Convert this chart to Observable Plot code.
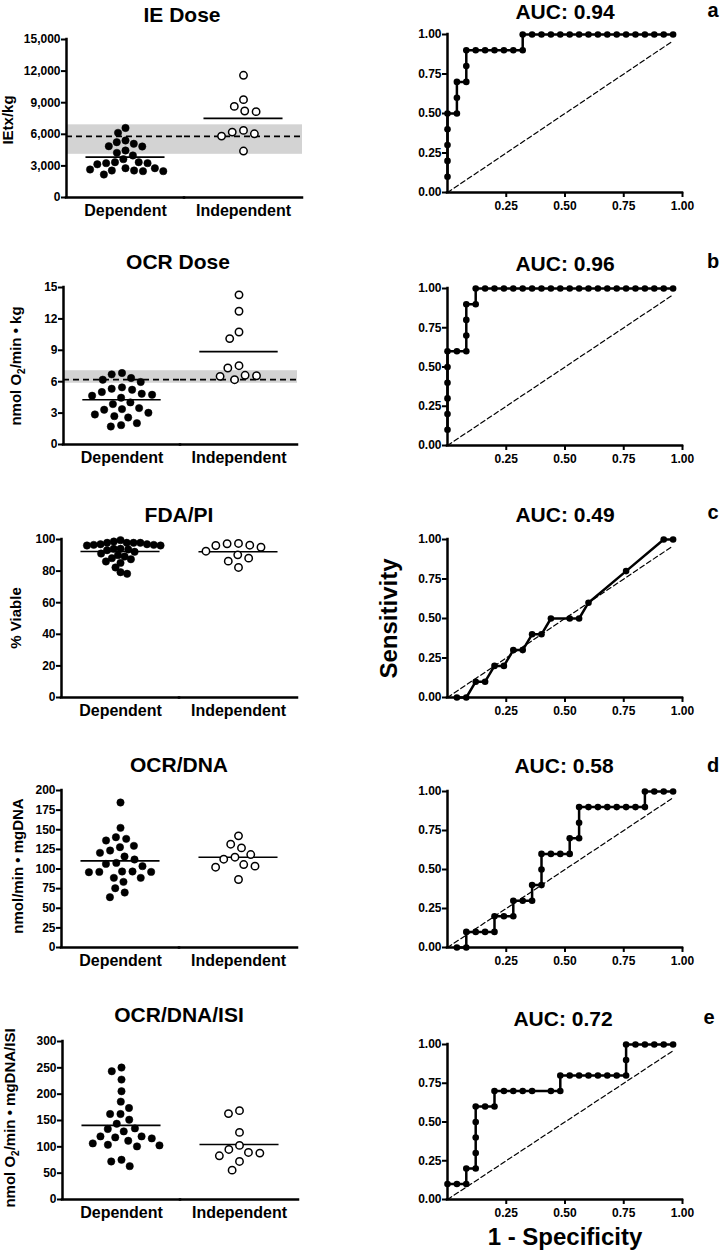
<!DOCTYPE html>
<html><head><meta charset="utf-8">
<script src="https://cdn.jsdelivr.net/npm/d3@7"></script>
<script src="https://cdn.jsdelivr.net/npm/@observablehq/plot@0.6"></script>
<style>
body{margin:0;background:#fff;}
#root{position:relative;width:721px;height:1251px;overflow:hidden;background:#fff;font-family:"Liberation Sans",Arial,sans-serif;}
#root > svg{position:absolute;}
</style></head><body><div id="root"></div>
<script>
// ---------------- DATA ----------------
const groups = ["Dependent", "Independent"];
const leftTitles = ["IE Dose", "OCR Dose", "FDA/PI", "OCR/DNA", "OCR/DNA/ISI"];
const aucValues = ["0.94", "0.96", "0.49", "0.58", "0.72"];
const panelLetters = ["a", "b", "c", "d", "e"];
const yLabels = [["IEtx/kg"], ["nmol O", "2", "/min \u2022 kg"], ["% Viable"], ["nmol/min \u2022 mgDNA"], ["nmol O", "2", "/min \u2022 mgDNA/ISI"]];

// IE Dose
const ieDoseDep = [6600, 6140, 5410, 5250, 5100, 4870, 4840, 4460, 4240, 3990, 3640, 3350, 3350, 3260, 3260, 3150, 2780, 2780, 2660, 2560, 2560, 2500, 2500, 2180];
const ieDoseIndep = [11600, 9290, 8650, 8210, 8150, 6370, 6210, 6050, 5830, 4410];
const ieDoseMeans = [3830, 7510];
const ieDoseBand = [4100, 6900];
const ieDoseCutoff = 5800;
const ieDoseTicks = [0, 3000, 6000, 9000, 12000, 15000];

// OCR Dose
const ocrDoseDep = [6.83, 6.70, 6.35, 6.19, 5.97, 5.46, 5.33, 5.23, 5.01, 4.85, 4.75, 4.66, 4.47, 4.02, 3.86, 3.48, 3.38, 3.32, 3.03, 2.87, 2.71, 2.58, 2.04, 1.85, 1.72];
const ocrDoseIndep = [14.3, 12.73, 10.75, 10.12, 7.53, 7.31, 6.61, 6.57, 6.51, 6.19];
const ocrDoseMeans = [4.28, 8.87];
const ocrDoseBand = [5.85, 7.05];
const ocrDoseCutoff = 6.2;
const ocrDoseTicks = [0, 3, 6, 9, 12, 15];

// FDA/PI
const fdaDep = [99.6, 98.7, 97.9, 97.9, 97.9, 97.9, 97.0, 97.0, 96.6, 96.6, 96.2, 96.2, 94.1, 94.1, 93.7, 93.2, 92.2, 91.1, 90.1, 89.2, 88.2, 87.5, 86.1, 85.2, 82.3, 79.3, 78.3];
const fdaIndep = [97.5, 97.3, 96.4, 96.2, 95.1, 92.6, 90.3, 88.2, 86.3, 82.3];
const fdaMeans = [92.4, 92.2];
const fdaTicks = [0, 20, 40, 60, 80, 100];

// OCR/DNA
const ocrDnaDep = [184.7, 152.4, 140.5, 138.4, 136.3, 129.5, 127.8, 123.5, 120.6, 115.9, 112.1, 107.8, 106.5, 103.6, 96.8, 96.8, 96.3, 96.3, 95.9, 88.7, 88.7, 83.6, 75.5, 70.0, 64.1];
const ocrDnaIndep = [142.2, 131.6, 126.9, 118.4, 115.0, 112.5, 105.7, 103.6, 102.3, 86.6];
const ocrDnaMeans = [110.4, 115.0];
const ocrDnaTicks = [0, 25, 50, 75, 100, 125, 150, 175, 200];

// OCR/DNA/ISI
const isiDep = [250.5, 243.5, 227.7, 205.5, 185.8, 173.7, 162.3, 162.3, 151.5, 143.9, 135.0, 133.8, 129.3, 119.8, 119.8, 117.9, 116.0, 111.5, 106.5, 103.9, 102.7, 100.8, 75.4, 72.2, 63.3];
const isiIndep = [168.7, 163.1, 127.4, 102.7, 95.0, 89.3, 88.1, 83.0, 72.2, 55.7];
const isiMeans = [140.7, 104.3];
const isiTicks = [0, 50, 100, 150, 200, 250, 300];

// ROC curves (1 - specificity, sensitivity)
const rocTicks = [0, 0.25, 0.5, 0.75, 1];
const chanceFpr = [0, 0.96];
const chanceTpr = [0, 0.96];
const rocAFpr = [0,0,0,0,0,0.04,0.04,0.04,0.08,0.08,0.08,0.12,0.16,0.20,0.24,0.28,0.32,0.32,0.36,0.40,0.44,0.48,0.52,0.56,0.60,0.64,0.68,0.72,0.76,0.80,0.84,0.88,0.92,0.96];
const rocATpr = [0.1,0.2,0.3,0.4,0.5,0.5,0.6,0.7,0.7,0.8,0.9,0.9,0.9,0.9,0.9,0.9,0.9,1,1,1,1,1,1,1,1,1,1,1,1,1,1,1,1,1];
const rocBFpr = [0,0,0,0,0,0,0.04,0.08,0.08,0.08,0.08,0.12,0.12,0.16,0.20,0.24,0.28,0.32,0.36,0.40,0.44,0.48,0.52,0.56,0.60,0.64,0.68,0.72,0.76,0.80,0.84,0.88,0.92,0.96];
const rocBTpr = [0.1,0.2,0.3,0.4,0.5,0.6,0.6,0.6,0.7,0.8,0.9,0.9,1,1,1,1,1,1,1,1,1,1,1,1,1,1,1,1,1,1,1,1,1,1];
const rocCFpr = [0.04,0.08,0.12,0.16,0.20,0.24,0.28,0.32,0.36,0.40,0.44,0.52,0.56,0.60,0.76,0.92,0.96];
const rocCTpr = [0,0,0.1,0.1,0.2,0.2,0.3,0.3,0.4,0.4,0.5,0.5,0.5,0.6,0.8,1,1];
const rocDFpr = [0.04,0.08,0.08,0.12,0.16,0.20,0.20,0.24,0.28,0.28,0.32,0.36,0.36,0.40,0.40,0.40,0.44,0.48,0.52,0.52,0.56,0.56,0.56,0.60,0.64,0.68,0.72,0.76,0.80,0.84,0.84,0.88,0.92,0.96];
const rocDTpr = [0,0,0.1,0.1,0.1,0.1,0.2,0.2,0.2,0.3,0.3,0.3,0.4,0.4,0.5,0.6,0.6,0.6,0.6,0.7,0.7,0.8,0.9,0.9,0.9,0.9,0.9,0.9,0.9,0.9,1,1,1,1];
const rocEFpr = [0,0.04,0.08,0.08,0.12,0.12,0.12,0.12,0.12,0.16,0.20,0.20,0.24,0.28,0.32,0.36,0.44,0.48,0.48,0.52,0.56,0.60,0.64,0.68,0.72,0.76,0.76,0.76,0.80,0.84,0.88,0.92,0.96];
const rocETpr = [0.1,0.1,0.1,0.2,0.2,0.3,0.4,0.5,0.6,0.6,0.6,0.7,0.7,0.7,0.7,0.7,0.7,0.7,0.8,0.8,0.8,0.8,0.8,0.8,0.8,0.8,0.9,1,1,1,1,1,1];

// ---------------- RENDER ----------------
const root = document.getElementById("root");
const FONT = "'Liberation Sans', Arial, Helvetica, sans-serif";
const baseStyle = {fontFamily: FONT, fontSize: "12px", fontWeight: "bold", background: "transparent", overflow: "visible", color: "#000"};

function scatterPanel(dep, indep, means, ticks, fmt, frame, pads, band, cutoff) {
  const {xl, xr, yTop, y0} = frame;
  const yMax = ticks[ticks.length - 1];
  const mt = 12, mb = 34, mr = 14;
  const width = xr + mr, height = (y0 - yTop) + mt + mb;
  const depPts = dep.map(v => ({g: groups[0], v}));
  const indPts = indep.map(v => ({g: groups[1], v}));
  const meanPts = means.map((m, i) => ({g: groups[i], m}));
  const marks = [];
  if (band) marks.push(Plot.rect([band], {x1: -1, x2: 1, y1: d => d[0], y2: d => d[1], fill: "#d3d3d3"}));
  if (cutoff != null) marks.push(Plot.ruleY([cutoff], {x1: -1, x2: 1, stroke: "#000", strokeWidth: 1.6, strokeDasharray: "6,4"}));
  marks.push(
    Plot.ruleX([groups[0]], {fx: d => d, x: -1, y1: 0, y2: yMax, stroke: "#000", strokeWidth: 2.5, strokeLinecap: "square"}),
    Plot.ruleY([0], {x1: -1, x2: 1, stroke: "#000", strokeWidth: 2.5, strokeLinecap: "square"}),
    Plot.axisY({ticks, tickSize: 5, tickPadding: 1, tickFormat: fmt, label: null, strokeWidth: 2, fontSize: 12, fontWeight: "bold"}),
    Plot.ruleY(meanPts, {fx: "g", y: "m", x1: -0.67, x2: 0.67, stroke: "#000", strokeWidth: 1.6}),
    Plot.dot(depPts, Plot.dodgeX({anchor: "middle", padding: pads[0]}, {fx: "g", y: "v", r: 3.7, fill: "#000", stroke: "#000", strokeWidth: 0.5})),
    Plot.dot(indPts, Plot.dodgeX({anchor: "middle", padding: pads[1]}, {fx: "g", y: "v", r: 3.7, fill: "#fff", stroke: "#000", strokeWidth: 1.5})),
    Plot.text(groups, {fx: d => d, text: d => d, frameAnchor: "bottom", lineAnchor: "top", dy: 7, fontSize: 16, fontWeight: "bold", fill: "#000"})
  );
  const svg = Plot.plot({
    width, height, marginLeft: xl, marginRight: mr, marginTop: mt, marginBottom: mb,
    fx: {domain: groups, padding: 0, axis: null, label: null},
    x: {domain: [-1, 1], axis: null},
    y: {domain: [0, yMax], label: null},
    style: baseStyle,
    marks
  });
  svg.style.left = "0px";
  svg.style.top = (yTop - mt) + "px";
  root.appendChild(svg);
}

function rocPanel(fpr, tpr, frame) {
  const {y1, y0} = frame;
  const left = 340, x0 = 447, x1 = 682;
  const mt = 12, mb = 28, width = 381;
  const ml = x0 - left, mr = width - (x1 - left);
  const height = (y0 - y1) + mt + mb;
  const pts = fpr.map((x, i) => ({x, y: tpr[i]}));
  const chance = chanceFpr.map((x, i) => ({x, y: chanceTpr[i]}));
  const f2 = d3.format(".2f");
  const svg = Plot.plot({
    width, height, marginLeft: ml, marginRight: mr, marginTop: mt, marginBottom: mb,
    x: {domain: [0, 1], label: null},
    y: {domain: [0, 1], label: null},
    style: baseStyle,
    marks: [
      Plot.line(chance, {x: "x", y: "y", stroke: "#000", strokeWidth: 1.2, strokeDasharray: "5,3"}),
      Plot.ruleX([0], {y1: 0, y2: 1, stroke: "#000", strokeWidth: 2.5, strokeLinecap: "square"}),
      Plot.ruleY([0], {x1: 0, x2: 1, stroke: "#000", strokeWidth: 2.5, strokeLinecap: "square"}),
      Plot.axisY({ticks: rocTicks, tickSize: 5, tickPadding: 1, tickFormat: f2, label: null, strokeWidth: 2, fontSize: 12, fontWeight: "bold"}),
      Plot.axisX({ticks: rocTicks.slice(1), tickSize: 5, tickPadding: 4, tickFormat: f2, label: null, strokeWidth: 2, fontSize: 12, fontWeight: "bold"}),
      Plot.line(pts, {x: "x", y: "y", stroke: "#000", strokeWidth: 2.5}),
      Plot.dot(pts, {x: "x", y: "y", r: 3.3, fill: "#000"})
    ]
  });
  svg.style.left = left + "px";
  svg.style.top = (y1 - mt) + "px";
  root.appendChild(svg);
}

const leftFrames = [
  {xl: 66, xr: 302, yTop: 39, y0: 197},
  {xl: 62, xr: 297, yTop: 287, y0: 444},
  {xl: 61, xr: 297, yTop: 539, y0: 697},
  {xl: 61, xr: 297, yTop: 790, y0: 947},
  {xl: 62, xr: 298, yTop: 1041, y0: 1199}
];
const rightFrames = [{y1: 34, y0: 192}, {y1: 288, y0: 445}, {y1: 539, y0: 697}, {y1: 791, y0: 947}, {y1: 1044, y0: 1199}];

scatterPanel(ieDoseDep, ieDoseIndep, ieDoseMeans, ieDoseTicks, d3.format(","), leftFrames[0], [1.5, 4], ieDoseBand, ieDoseCutoff);
scatterPanel(ocrDoseDep, ocrDoseIndep, ocrDoseMeans, ocrDoseTicks, d3.format("d"), leftFrames[1], [3, 4], ocrDoseBand, ocrDoseCutoff);
scatterPanel(fdaDep, fdaIndep, fdaMeans, fdaTicks, d3.format("d"), leftFrames[2], [-0.6, 4]);
scatterPanel(ocrDnaDep, ocrDnaIndep, ocrDnaMeans, ocrDnaTicks, d3.format("d"), leftFrames[3], [3, 4]);
scatterPanel(isiDep, isiIndep, isiMeans, isiTicks, d3.format("d"), leftFrames[4], [3, 4]);

rocPanel(rocAFpr, rocATpr, rightFrames[0]);
rocPanel(rocBFpr, rocBTpr, rightFrames[1]);
rocPanel(rocCFpr, rocCTpr, rightFrames[2]);
rocPanel(rocDFpr, rocDTpr, rightFrames[3]);
rocPanel(rocEFpr, rocETpr, rightFrames[4]);

// ---------------- TEXT OVERLAY ----------------
const ov = d3.select(root).append("svg")
  .attr("width", 721).attr("height", 1251)
  .style("left", "0px").style("top", "0px").style("pointer-events", "none")
  .style("font-family", FONT).style("font-weight", "bold").attr("fill", "#000");

const leftTitlePos = [[182, 21.5], [178, 269], [179, 521.5], [179, 772], [179, 1022]];
const rightTitlePos = [[565, 19], [565, 270.5], [565, 521.5], [564, 773], [563, 1026]];
const letterPos = [[713, 17], [713, 268], [713, 519], [713, 771.5], [709, 1023.5]];
const yLabelPos = [[13, 120], [21, 366], [21, 618], [22.5, 866], [14.5, 1118]];

leftTitles.forEach((t, i) => {
  ov.append("text").attr("x", leftTitlePos[i][0]).attr("y", leftTitlePos[i][1])
    .attr("text-anchor", "middle").style("font-size", "21px").text(t);
});
aucValues.forEach((v, i) => {
  ov.append("text").attr("x", rightTitlePos[i][0]).attr("y", rightTitlePos[i][1])
    .attr("text-anchor", "middle").style("font-size", "21px").text("AUC: " + v);
});
panelLetters.forEach((l, i) => {
  ov.append("text").attr("x", letterPos[i][0]).attr("y", letterPos[i][1])
    .attr("text-anchor", "middle").style("font-size", "20px").text(l);
});
yLabels.forEach((parts, i) => {
  const t = ov.append("text")
    .attr("transform", `translate(${yLabelPos[i][0]},${yLabelPos[i][1]}) rotate(-90)`)
    .attr("text-anchor", "middle").style("font-size", "15px");
  if (parts.length === 1) t.text(parts[0]);
  else {
    t.append("tspan").text(parts[0]);
    t.append("tspan").attr("dy", 4).style("font-size", "10px").text(parts[1]);
    t.append("tspan").attr("dy", -4).text(parts[2]);
  }
});
ov.append("text").attr("transform", "translate(397,618.5) rotate(-90)")
  .attr("text-anchor", "middle").style("font-size", "24px").text("Sensitivity");
ov.append("text").attr("x", 565).attr("y", 1245)
  .attr("text-anchor", "middle").style("font-size", "24px").text("1 - Specificity");
</script></body></html>
